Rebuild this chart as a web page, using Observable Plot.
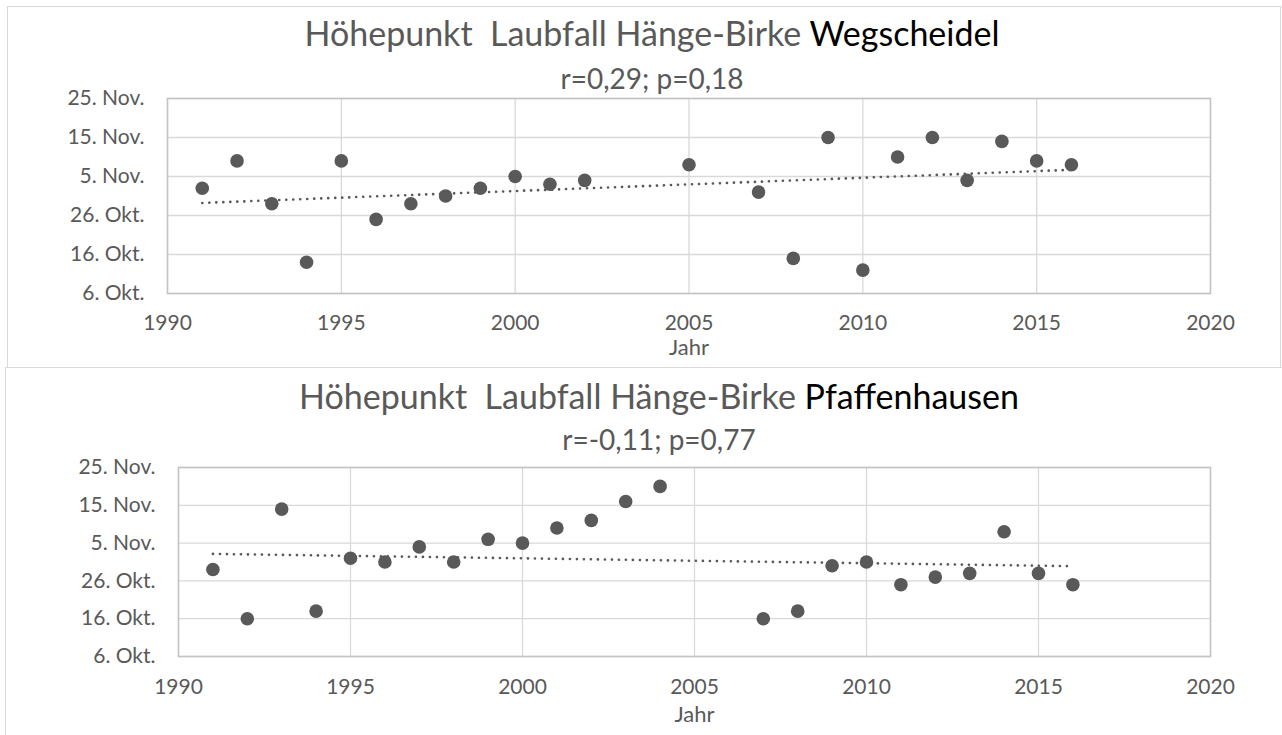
<!DOCTYPE html>
<html>
<head>
<meta charset="utf-8">
<script src="https://cdn.jsdelivr.net/npm/d3@7"></script>
<script src="https://cdn.jsdelivr.net/npm/@observablehq/plot@0.6"></script>
<style>
  html, body { margin: 0; padding: 0; background: #ffffff; }
  body { width: 1282px; height: 735px; position: relative; overflow: hidden; font-family: Lato, "Open Sans", sans-serif; }
  .box { position: absolute; border: 1px solid #d9d9d9; box-sizing: border-box; }
  .title, .sub { position: absolute; white-space: pre; text-align: center; line-height: 1; color: #595959; font-weight: 400; }
  .title .loc { color: #000000; font-weight: 400; }
  .chart { position: absolute; left: 0; }
</style>
</head>
<body>
<div class="box" style="left:7px; top:6px; width:1274px; height:362px;"></div>
<div class="box" style="left:5px; top:367px; width:1320px; height:400px;"></div>
<div id="t1" class="title"></div>
<div id="s1" class="sub"></div>
<div id="t2" class="title"></div>
<div id="s2" class="sub"></div>
<div id="c1" class="chart" style="top:0px;"></div>
<div id="c2" class="chart" style="top:367px;"></div>
<script>
// ---- data ----
const titlePrefix = "Höhepunkt  Laubfall Hänge-Birke ";
const site1 = "Wegscheidel";
const stats1 = "r=0,29; p=0,18";
const site2 = "Pfaffenhausen";
const stats2 = "r=-0,11; p=0,77";
const xLabel = "Jahr";

const xTicks = [1990, 1995, 2000, 2005, 2010, 2015, 2020];
const yTickDates = ["10-06", "10-16", "10-26", "11-05", "11-15", "11-25"];
const yTickLabels = ["6. Okt.", "16. Okt.", "26. Okt.", "5. Nov.", "15. Nov.", "25. Nov."];

const years1 = [1991, 1992, 1993, 1994, 1995, 1996, 1997, 1998, 1999, 2000, 2001, 2002,
                2005, 2007, 2008, 2009, 2010, 2011, 2012, 2013, 2014, 2015, 2016];
const dates1 = ["11-02", "11-09", "10-29", "10-14", "11-09", "10-25", "10-29", "10-31", "11-02", "11-05", "11-03", "11-04",
                "11-08", "11-01", "10-15", "11-15", "10-12", "11-10", "11-15", "11-04", "11-14", "11-09", "11-08"];

const years2 = [1991, 1992, 1993, 1994, 1995, 1996, 1997, 1998, 1999, 2000, 2001, 2002, 2003, 2004,
                2007, 2008, 2009, 2010, 2011, 2012, 2013, 2014, 2015, 2016];
const dates2 = ["10-29", "10-16", "11-14", "10-18", "11-01", "10-31", "11-04", "10-31", "11-06", "11-05", "11-09", "11-11", "11-16", "11-20",
                "10-16", "10-18", "10-30", "10-31", "10-25", "10-27", "10-28", "11-08", "10-28", "10-25"];

// day number counted from 30 September (1 Oct = 1, 1 Nov = 32)
function dayNum(s) {
  const [m, d] = s.split("-").map(Number);
  return m === 10 ? d : 31 + d;
}
const yTickValues = yTickDates.map(dayNum);
const fmtY = v => yTickLabels[yTickValues.indexOf(v)] ?? "";

const grey = "#595959";

function makeChart(years, dates, o) {
  const data = years.map((yr, i) => ({year: yr, day: dayNum(dates[i])}));
  return Plot.plot({
    width: 1282,
    height: o.height,
    marginLeft: o.left,
    marginRight: 1282 - o.right,
    marginTop: o.top,
    marginBottom: o.height - o.bottom,
    style: {fontFamily: "Lato, 'Open Sans', sans-serif", fontSize: "21px", color: grey, background: "transparent", overflow: "visible"},
    x: {domain: [1990, 2020], ticks: xTicks, tickFormat: d => String(d), tickSize: 0, tickPadding: o.xPad, label: null},
    y: {domain: [6, 56], ticks: yTickValues, tickFormat: fmtY, tickSize: 0, tickPadding: 23, label: null},
    marks: [
      Plot.ruleY(yTickValues, {stroke: "#d9d9d9", strokeWidth: 1.3}),
      Plot.ruleX(xTicks, {stroke: "#d9d9d9", strokeWidth: 1.3}),
      Plot.frame({stroke: "#c4c4c4", strokeWidth: 1.5}),
      Plot.linearRegressionY(data, {x: "year", y: "day", stroke: grey, strokeWidth: 2.6, strokeDasharray: "0.1 6.9", strokeLinecap: "round", ci: 0}),
      Plot.dot(data, {x: "year", y: "day", r: 6.8, fill: grey, stroke: "none"}),
      Plot.text([xLabel], {frameAnchor: "bottom", dy: o.labelDy, fill: grey, fontSize: 22})
    ]
  });
}

document.getElementById("c1").appendChild(makeChart(years1, dates1, {height: 367, left: 167, right: 1210, top: 98, bottom: 293, labelDy: 61, xPad: 22}));
document.getElementById("c2").appendChild(makeChart(years2, dates2, {height: 368, left: 178, right: 1210, top: 100, bottom: 289, labelDy: 65, xPad: 23}));

function setTitle(id, sid, site, stats, cx, baseT, baseS, fsT, fsS) {
  const t = document.getElementById(id);
  t.textContent = titlePrefix;
  const span = document.createElement("span");
  span.className = "loc";
  span.textContent = site;
  t.appendChild(span);
  t.style.fontSize = fsT + "px";
  t.style.left = (cx - 500) + "px";
  t.style.width = "1000px";
  t.style.top = (baseT - 0.887 * fsT) + "px";
  const s = document.getElementById(sid);
  s.textContent = stats;
  s.style.fontSize = fsS + "px";
  s.style.left = (cx - 500) + "px";
  s.style.width = "1000px";
  s.style.top = (baseS - 0.887 * fsS) + "px";
}
setTitle("t1", "s1", site1, stats1, 652, 46, 89, 34, 28);
setTitle("t2", "s2", site2, stats2, 659, 409, 450, 34, 28);
</script>
</body>
</html>
